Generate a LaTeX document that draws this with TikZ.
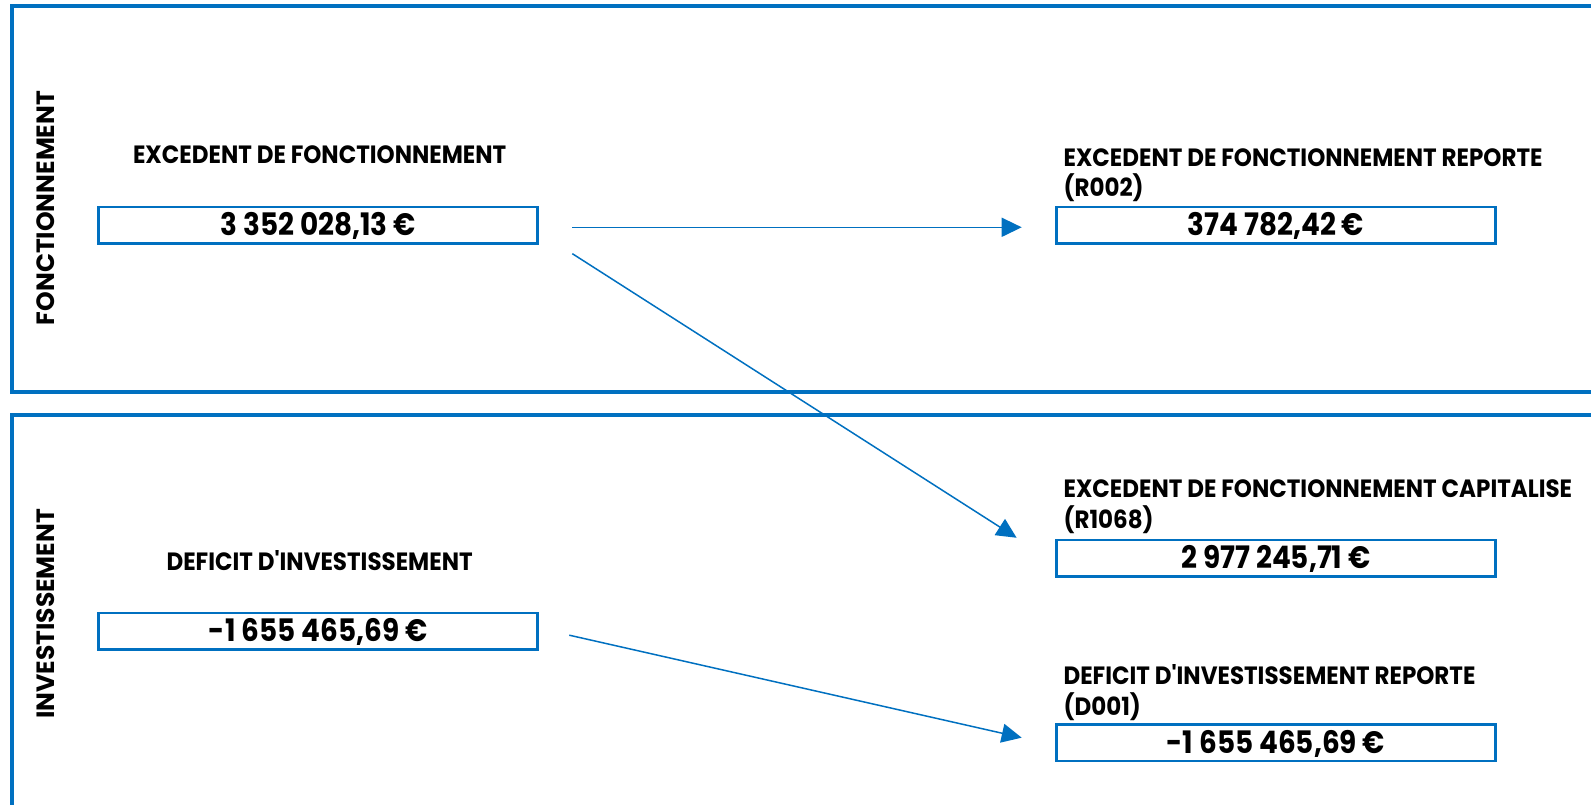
\documentclass[tikz,border=0pt]{standalone}
\usepackage{fontspec}
\setmainfont{Poppins}
\newfontfamily\labfont{Poppins}[FakeStretch=0.92]
\newfontfamily\valfont{Poppins}[FakeStretch=0.90]
\usetikzlibrary{arrows.meta,calc}
\definecolor{frameblue}{HTML}{0070C0}
\begin{document}
\begin{tikzpicture}[x=1.0147pt,y=-1.0147pt,
  frame/.style={draw=frameblue,line width=4pt},
  valbox/.style={draw=frameblue,line width=2.5pt,minimum width=439pt,minimum height=36.5pt,inner sep=0pt,text height=21pt,text depth=0pt,font=\valfont\bfseries\fontsize{31}{31}\selectfont},
  lab/.style={inner sep=0pt,font=\labfont\bfseries\fontsize{25}{30.5}\selectfont},
  side/.style={inner sep=0pt,rotate=90,font=\bfseries\fontsize{25}{25}\selectfont},
  flow/.style={draw=frameblue,line width=1.5pt,-{Triangle[length=20pt,width=19pt]}}]
\useasboundingbox (0,0) rectangle (1568,793.34);
% frames
\draw[frame] (1580,6) -- (12,6) -- (12,386) -- (1580,386);
\draw[frame] (1580,409) -- (12,409) -- (12,805);
% side labels
\node[side] (sideF) at (45,205) {FONCTIONNEMENT};
\node[side] (sideI) at (45,605) {INVESTISSEMENT};
% left
\node[lab] (lF) at (315,152) {EXCEDENT DE FONCTIONNEMENT};
\node[valbox] (vF) at (313.5,222) {3 352 028,13 €};
\node[lab] (lI) at (315,552) {DEFICIT D'INVESTISSEMENT};
\node[valbox] (vI) at (313.5,622) {-1 655 465,69 €};
% right
\node[valbox] (vR002) at (1257.5,222) {374 782,42 €};
\node[lab,anchor=north west,align=left] (lR002) at (1048,146) {EXCEDENT DE FONCTIONNEMENT REPORTE\\(R002)};
\node[valbox] (vR1068) at (1257.5,550) {2 977 245,71 €};
\node[lab,anchor=north west,align=left] (lR1068) at (1048,473) {EXCEDENT DE FONCTIONNEMENT CAPITALISE\\(R1068)};
\node[valbox] (vD001) at (1257.5,732) {-1 655 465,69 €};
\node[lab,anchor=north west,align=left] (lD001) at (1048,655) {DEFICIT D'INVESTISSEMENT REPORTE\\(D001)};
% arrow ends
\coordinate (a1s) at ($(vF.east)+(33,2)$);
\coordinate (a1e) at ($(vR002.west)+(-33,2)$);
\coordinate (a2s) at ($(vF.east)+(33,28)$);
\coordinate (a2e) at ($(vR1068.west)+(-38,-20)$);
\coordinate (a3s) at ($(vI.east)+(30,4)$);
\coordinate (a3e) at ($(vD001.west)+(-33,-5)$);
\draw[flow] (a1s) -- (a1e);
\draw[flow] (a2s) -- (a2e);
\draw[flow] (a3s) -- (a3e);
\end{tikzpicture}
\end{document}
